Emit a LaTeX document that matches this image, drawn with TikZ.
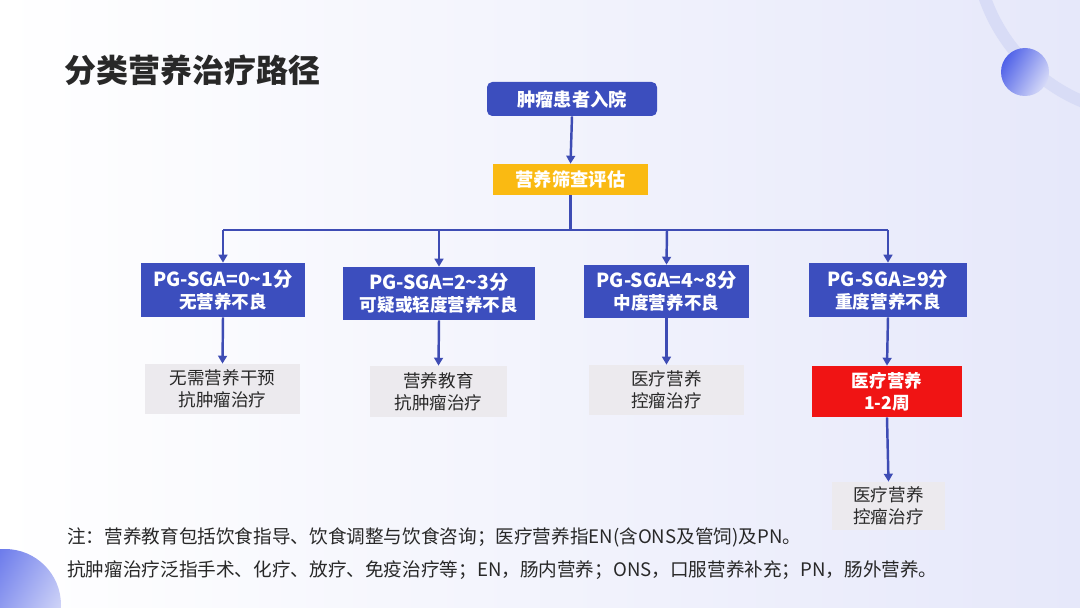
\documentclass[tikz,border=0pt]{standalone}
\usepackage{fontspec}
\setmainfont{Noto Sans CJK SC}
\newfontfamily\symfont{DejaVu Sans}
\usetikzlibrary{arrows.meta}
\definecolor{boxblue}{RGB}{60,78,190}
\definecolor{lineblue}{RGB}{62,76,180}
\definecolor{gold}{RGB}{250,186,18}
\definecolor{resgray}{RGB}{236,234,238}
\definecolor{resred}{RGB}{240,20,20}
\definecolor{bgright}{RGB}{230,232,250}
\definecolor{ringc}{RGB}{216,220,246}
\definecolor{dotdark}{RGB}{80,98,232}
\definecolor{dotlight}{RGB}{214,218,248}
\definecolor{txtdark}{RGB}{40,40,40}
\newcommand{\firstline}{\fontsize{11}{13}\selectfont}
\tikzset{
  wh/.style 2 args={minimum width=#1*0.02cm, minimum height=#2*0.02cm},
  bluebox/.style={fill=boxblue, text=white, font=\bfseries\fontsize{10}{12.5}\selectfont, align=center, inner sep=0pt},
  goldbox/.style={fill=gold, text=white, font=\bfseries\fontsize{10.4}{12}\selectfont, align=center, inner sep=0pt},
  graybox/.style={fill=resgray, text=txtdark, font=\fontsize{10}{12.5}\selectfont, align=center, inner sep=0pt},
  redbox/.style={fill=resred, text=white, font=\bfseries\fontsize{10}{12.5}\selectfont, align=center, inner sep=0pt},
  conn/.style={draw=lineblue, line width=1.4pt},
  arr/.style={conn, -{Triangle[width=5pt,length=4.5pt]}},
  note/.style={anchor=west, text=txtdark, font=\fontsize{10.6}{12}\selectfont, inner sep=0pt},
}
\begin{document}
\begin{tikzpicture}[x=0.02cm,y=-0.02cm]
% background
\shade[left color=white, right color=bgright] (0,0) rectangle (1080,608);
\useasboundingbox (0,0) rectangle (1080,608);
% decorations
\begin{scope}
\clip (0,0) rectangle (1080,608);
\draw[ringc, line width=7pt] (1150,-60) circle (175);
\shade[left color=dotdark, right color=dotlight, shading angle=60] (1025,72) circle (24);
\shade[left color=dotdark, right color=dotlight, shading angle=60] (5,605) circle (56);
\end{scope}
% title
\node[anchor=west, text=txtdark, font=\bfseries\fontsize{18.2}{21}\selectfont, inner sep=0pt] (title) at (64,70) {分类营养治疗路径};
% nodes
\node[bluebox, wh={170}{34}, rounded corners=3pt, font=\bfseries\fontsize{10.4}{12}\selectfont] (top) at (572,99) {肿瘤患者入院};
\node[goldbox, wh={155}{31}] (screen) at (570.5,179.5) {营养筛查评估};
\node[bluebox, wh={164}{54}] (A) at (223,290) {{\firstline PG-SGA=0\textasciitilde1分}\\无营养不良};
\node[bluebox, wh={192}{53}] (B) at (439,293.5) {{\firstline PG-SGA=2\textasciitilde3分}\\可疑或轻度营养不良};
\node[bluebox, wh={165}{53}] (C) at (666.5,291.5) {{\firstline PG-SGA=4\textasciitilde8分}\\中度营养不良};
\node[bluebox, wh={158}{54}] (D) at (888,290) {{\firstline PG-SGA{\symfont ≥}9分}\\重度营养不良};
\node[graybox, wh={155}{50}] (RA) at (222.5,389) {无需营养干预\\抗肿瘤治疗};
\node[graybox, wh={137}{51}] (RB) at (438.5,391.5) {营养教育\\抗肿瘤治疗};
\node[graybox, wh={155}{50}] (RC) at (666.5,390) {医疗营养\\控瘤治疗};
\node[redbox, wh={150}{51}] (RD) at (887,391.5) {医疗营养\\1-2周};
\node[graybox, wh={113}{48}] (RD2) at (888.5,506) {医疗营养\\控瘤治疗};
% connectors
\coordinate (hA) at (223,230);
\coordinate (hB) at (439,230);
\coordinate (hC) at (667,230);
\coordinate (hD) at (888,230);
\draw[arr] (top.south) -- (screen.north);
\draw[conn] (screen.south) -- (screen.south |- hA);
\draw[conn] (hA) -- (hD);
\draw[arr] (hA) -- (A.north);
\draw[arr] (hB) -- (B.north);
\draw[arr] (hC) -- (C.north);
\draw[arr] (hD) -- (D.north);
\draw[arr] (A.south) -- (RA.north);
\draw[arr] (B.south) -- (RB.north);
\draw[arr] (C.south) -- (RC.north);
\draw[arr] (D.south) -- (RD.north);
\draw[arr] (RD.south) -- (RD2.north);
% notes
\node[note] (n1) at (67,537) {注：营养教育包括饮食指导、饮食调整与饮食咨询；医疗营养指EN(含ONS及管饲)及PN。};
\node[note] (n2) at (67,570) {抗肿瘤治疗泛指手术、化疗、放疗、免疫治疗等；EN，肠内营养；ONS，口服营养补充；PN，肠外营养。};
\end{tikzpicture}
\end{document}
